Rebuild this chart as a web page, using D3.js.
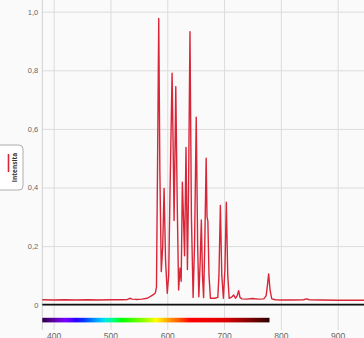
<!DOCTYPE html>
<html>
<head>
<meta charset="utf-8">
<script src="https://cdn.jsdelivr.net/npm/d3@7"></script>
<style>
  body { margin: 0; background: #fafafa; }
  svg { display: block; font-family: "Open Sans", sans-serif; }
  .grid line { stroke: #dcdcdc; stroke-width: 1; }
  .grid text { fill: #666; }
</style>
</head>
<body>
<svg id="chart" width="364" height="338"></svg>
<script>
// spectrum (wavelength nm -> relative intensity)
var wavelengths = [380, 400, 420, 440, 460, 480, 500, 520, 530, 535, 538, 545, 555, 565, 572, 576, 579,
  581, 583, 585, 587, 589.5, 592, 594.4, 597, 600, 602.5, 605, 608.5, 611, 612, 613.5, 615, 617.5,
  620, 622.5, 624.5, 626.6, 628.5, 630.5, 633, 635.5, 637.5, 640, 642.5, 645.5, 648, 651, 653.5,
  655.6, 658, 660, 662, 664, 666, 668.5, 670, 671.5, 673.5, 676, 684, 689, 691, 693.5, 696, 698.8,
  701.5, 704, 706.5, 709, 714, 717, 720, 723, 725.7, 728, 731, 740, 750, 760, 770, 774, 776, 778.5,
  781, 784, 790, 800, 820, 840, 845, 850, 870, 900, 930, 950];
var intensity = [0.017, 0.016, 0.017, 0.016, 0.017, 0.016, 0.017, 0.017, 0.018, 0.022, 0.019, 0.018, 0.019, 0.022, 0.03, 0.035, 0.04,
  0.06, 0.5, 0.977, 0.45, 0.113, 0.2, 0.397, 0.15, 0.039, 0.10, 0.4, 0.79, 0.45, 0.287, 0.5, 0.744, 0.35,
  0.05, 0.125, 0.08, 0.418, 0.3, 0.167, 0.537, 0.12, 0.4, 0.932, 0.3, 0.025, 0.2, 0.64, 0.2,
  0.027, 0.15, 0.289, 0.1, 0.024, 0.2, 0.50, 0.3, 0.285, 0.1, 0.022, 0.022, 0.025, 0.1, 0.339, 0.1, 0.022,
  0.12, 0.35, 0.1, 0.022, 0.027, 0.033, 0.022, 0.03, 0.048, 0.025, 0.02, 0.019, 0.021, 0.019, 0.02, 0.03, 0.06, 0.105,
  0.05, 0.02, 0.017, 0.016, 0.016, 0.017, 0.02, 0.017, 0.016, 0.015, 0.015, 0.015];

var xTicks = [400, 500, 600, 700, 800, 900];
var yTicks = [0, 0.2, 0.4, 0.6, 0.8, 1.0];
var yLabels = ["0", "0,2", "0,4", "0,6", "0,8", "1,0"];
var seriesName = "Intensita";

// visible spectrum bar
var spectrumStops = [380, 400, 420, 440, 455, 475, 490, 505, 520, 560, 580, 600, 620, 640, 700, 740, 780];
var spectrumColors = ["#2c0045", "#5e00a6", "#7800ff", "#2a00ff", "#0040ff", "#00a2ff", "#00e5f0", "#00ff7a",
  "#00ff00", "#94ff00", "#ffff00", "#ffa800", "#ff5a00", "#ff0000", "#e00000", "#8c0000", "#2e0000"];

var svg = d3.select("#chart");
var W = 364, plotLeft = 42.3, plotBottom = 330;

var x = d3.scaleLinear().domain([380, 950]).range([plotLeft, plotLeft + 570 * 0.568]);
var y = d3.scaleLinear().domain([0, 1]).range([304.7, 11.7]);

// vertical grid + x labels
var gx = svg.append("g").attr("class", "grid")
  .attr("transform", "translate(0," + plotBottom + ")")
  .call(d3.axisBottom(x).tickValues(xTicks).tickSize(-plotBottom).tickPadding(3).tickFormat(d3.format("d")));
gx.select(".domain").remove();
gx.selectAll("text").style("font-size", "8.5px");

// horizontal grid + y labels
var gy = svg.append("g").attr("class", "grid")
  .attr("transform", "translate(" + plotLeft + ",0)")
  .call(d3.axisLeft(y).tickValues(yTicks).tickSize(-(W - plotLeft)).tickPadding(4)
    .tickFormat(function (d, i) { return yLabels[i]; }));
gy.select(".domain").remove();
gy.selectAll("text").style("font-size", "7.5px");

// left axis line
svg.append("line")
  .attr("x1", plotLeft).attr("x2", plotLeft)
  .attr("y1", 0).attr("y2", plotBottom)
  .attr("stroke", "#d0d0d0");

// zero line
svg.append("line")
  .attr("x1", plotLeft).attr("x2", W)
  .attr("y1", y(0)).attr("y2", y(0))
  .attr("stroke", "#111").attr("stroke-width", 1.8);

// spectrum colour bar
var defs = svg.append("defs");
var grad = defs.append("linearGradient").attr("id", "spec")
  .attr("x1", "0%").attr("x2", "100%").attr("y1", "0%").attr("y2", "0%");
spectrumStops.forEach(function (w, i) {
  grad.append("stop")
    .attr("offset", ((w - 380) / 400 * 100) + "%")
    .attr("stop-color", spectrumColors[i]);
});
svg.append("rect")
  .attr("x", x(380)).attr("width", x(780) - x(380))
  .attr("y", 317.8).attr("height", 4.6)
  .attr("fill", "url(#spec)");

// spectrum line
var data = wavelengths.map(function (w, i) { return { x: w, y: intensity[i] }; });
var line = d3.line()
  .x(function (d) { return x(d.x); })
  .y(function (d) { return y(d.y); });

svg.append("path")
  .datum(data)
  .attr("fill", "none")
  .attr("stroke", "#d82638")
  .attr("stroke-width", 1.4)
  .attr("stroke-linejoin", "round")
  .attr("d", line);

// legend box
var leg = svg.append("g");
leg.append("rect")
  .attr("x", -6).attr("y", 145).attr("width", 29).attr("height", 45).attr("rx", 4)
  .attr("fill", "#fff").attr("stroke", "#999").attr("stroke-width", 0.8);
leg.append("line")
  .attr("x1", 8.5).attr("x2", 8.5).attr("y1", 154).attr("y2", 172)
  .attr("stroke", "#d82638").attr("stroke-width", 1.6);
leg.append("text")
  .attr("transform", "translate(17,167.5) rotate(-90)")
  .attr("text-anchor", "middle")
  .style("font-size", "6.5px").style("font-weight", "bold").attr("fill", "#333")
  .text(seriesName);
</script>
</body>
</html>
